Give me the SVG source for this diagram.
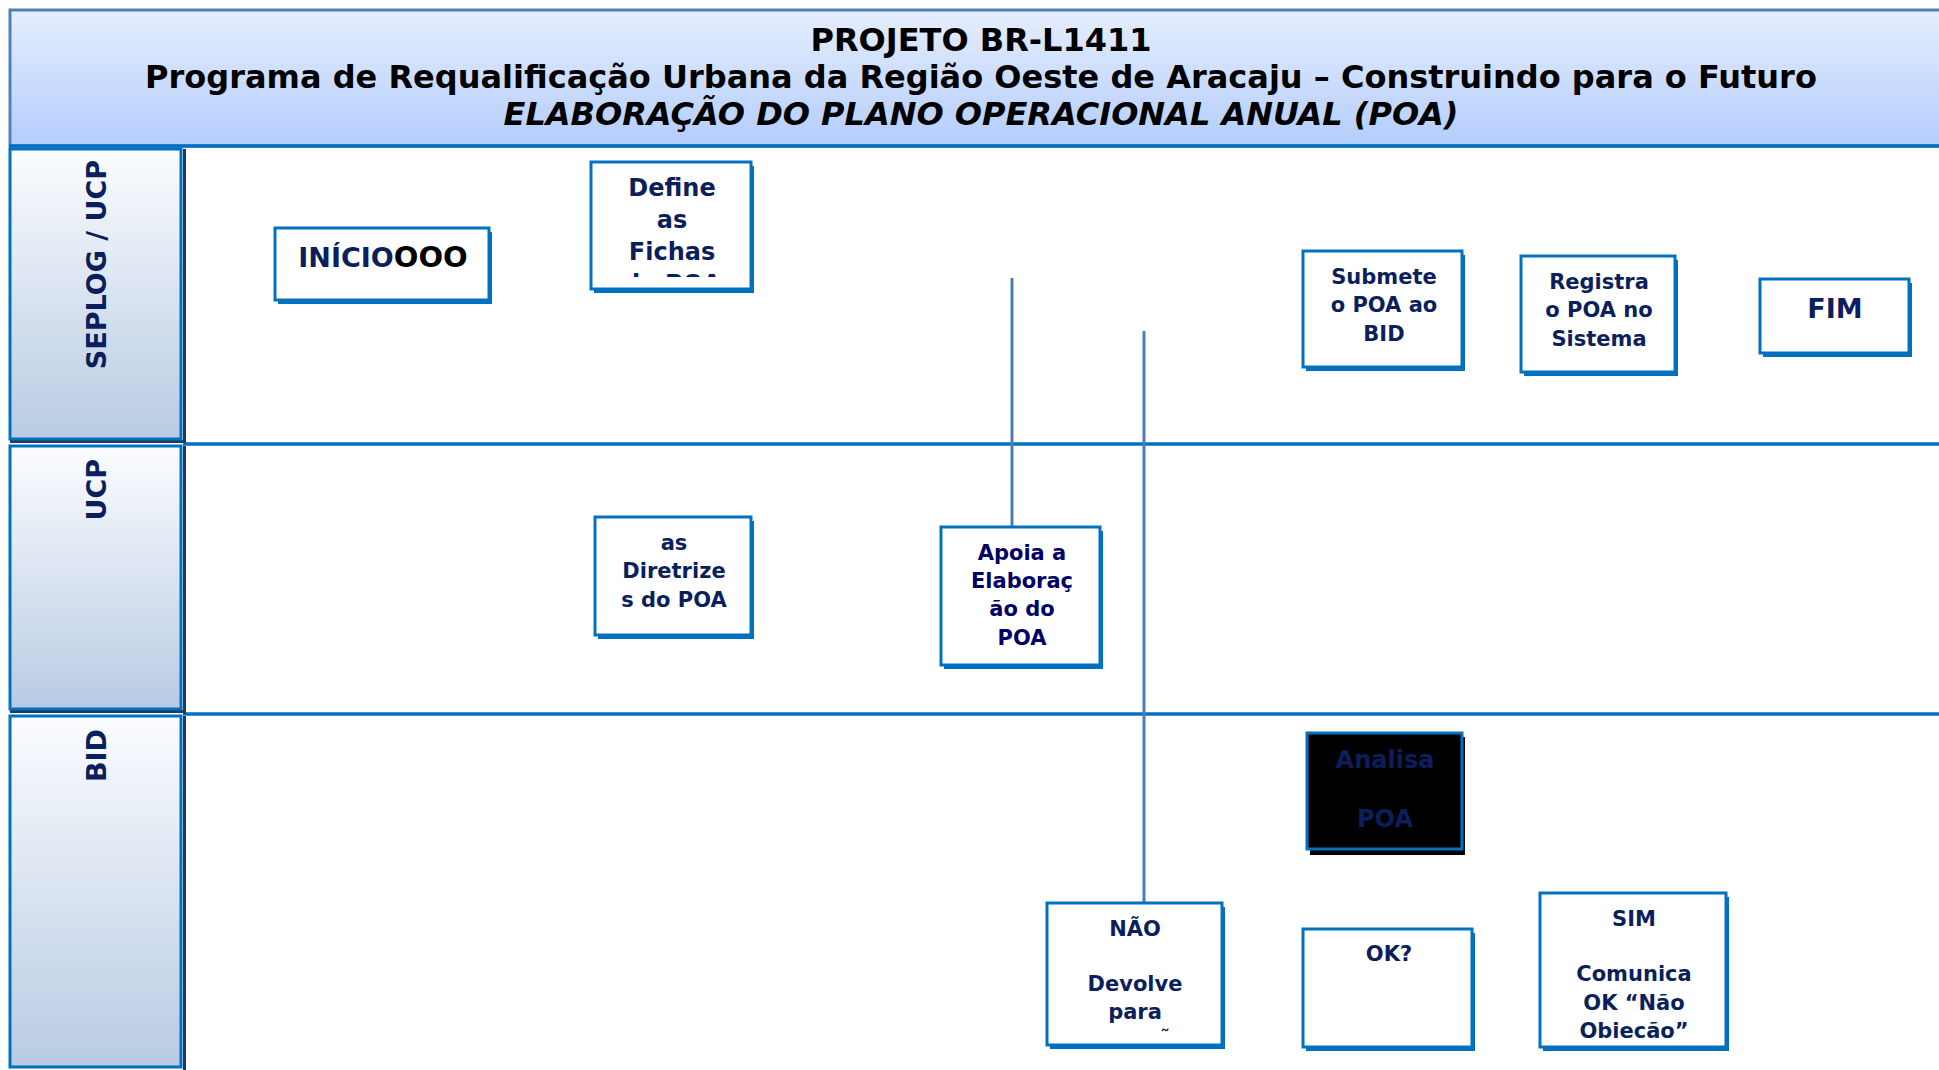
<svg xmlns="http://www.w3.org/2000/svg" width="1939" height="1070" viewBox="0 0 1939 1070">
<style>
text{font-family:"DejaVu Sans","Liberation Sans",sans-serif;font-weight:bold;}
.hdr{font-size:32px;fill:#000;text-anchor:middle;}
.lane{font-size:27px;fill:#0b1f5c;text-anchor:end;}
.t{font-size:21px;fill:#0b1f5c;text-anchor:middle;}
.t24{font-size:24px;fill:#0b1f5c;text-anchor:middle;}
.box{fill:#fff;stroke:#0070c0;stroke-width:3;}
.shd{fill:#0070c0;}
.sep{stroke:#0070c0;stroke-width:3.5;}
.cell{fill:url(#laneGrad);stroke:#0070c0;stroke-width:3;}
.conn{stroke:#4a7ebb;stroke-width:3;fill:none;}
</style>
<defs>
<linearGradient id="hdrGrad" x1="0" y1="0" x2="0" y2="1">
<stop offset="0" stop-color="#e5eefd"/>
<stop offset="1" stop-color="#b4cdfc"/>
</linearGradient>
<linearGradient id="laneGrad" x1="0" y1="0" x2="0" y2="1">
<stop offset="0" stop-color="#fbfcfe"/>
<stop offset="1" stop-color="#b8cbe3"/>
</linearGradient>
<clipPath id="clipDefine"><rect x="591" y="162" width="162" height="115"/></clipPath>
<clipPath id="clipNao"><rect x="1047" y="903" width="177" height="142"/></clipPath>
<clipPath id="clipSim"><rect x="1540" y="893" width="188" height="145"/></clipPath>
</defs>
<rect width="1939" height="1070" fill="#fff"/>
<g id="header">
<rect x="10" y="10" width="1935" height="136" fill="url(#hdrGrad)" stroke="#4f81bd" stroke-width="3"/>
<line x1="9" y1="146" x2="1939" y2="146" class="sep"/>
<text class="hdr" x="981" y="51">PROJETO BR-L1411</text>
<text class="hdr" x="981" y="88">Programa de Requalificação Urbana da Região Oeste de Aracaju – Construindo para o Futuro</text>
<text class="hdr" x="981" y="125" font-style="italic">ELABORAÇÃO DO PLANO OPERACIONAL ANUAL (POA)</text>
</g>
<g id="lanes">
<line x1="183" y1="444" x2="1939" y2="444" class="sep"/>
<line x1="183" y1="714" x2="1939" y2="714" class="sep"/>
<g id="lane-seplog">
<rect x="183" y="149" width="3" height="294" fill="#1f3a60"/>
<rect x="10" y="440" width="175" height="3" fill="#1f3a60"/>
<rect class="cell" x="10" y="149" width="171" height="290"/>
<text class="lane" transform="translate(106,160) rotate(-90)">SEPLOG / UCP</text>
</g>
<g id="lane-ucp">
<rect x="183" y="446" width="3" height="268" fill="#1f3a60"/>
<rect x="10" y="710" width="175" height="3" fill="#1f3a60"/>
<rect class="cell" x="10" y="446" width="171" height="263"/>
<text class="lane" transform="translate(106,459) rotate(-90)">UCP</text>
</g>
<g id="lane-bid">
<rect x="183" y="716" width="3" height="354" fill="#1f3a60"/>
<rect class="cell" x="10" y="716" width="171" height="351"/>
<text class="lane" transform="translate(106,729) rotate(-90)">BID</text>
</g>
</g>
<g id="connectors">
<line class="conn" x1="1012" y1="278" x2="1012" y2="528"/>
<line class="conn" x1="1144" y1="331" x2="1144" y2="904"/>
</g>
<g id="node-inicio">
<rect class="shd" x="278" y="232" width="214" height="72"/>
<rect class="box" x="275" y="228" width="214" height="72"/>
<text x="383" y="267" style="font-size:27px" text-anchor="middle"><tspan fill="#0b1f5c">INÍCIO</tspan><tspan fill="#000" style="font-size:29px">OOO</tspan></text>
</g>
<g id="node-define">
<rect class="shd" x="594" y="166" width="160" height="127"/>
<rect class="box" x="591" y="162" width="160" height="127"/>
<g clip-path="url(#clipDefine)">
<text class="t24" x="672" y="196">Define</text>
<text class="t24" x="672" y="228">as</text>
<text class="t24" x="672" y="260">Fichas</text>
<text class="t24" x="672" y="292">do POA</text>
</g>
</g>
<g id="node-diretrizes">
<rect class="shd" x="598" y="521" width="156" height="118"/>
<rect class="box" x="595" y="517" width="156" height="118"/>
<text class="t" x="674" y="550">as</text>
<text class="t" x="674" y="578">Diretrize</text>
<text class="t" x="674" y="607">s do POA</text>
</g>
<g id="node-apoia">
<rect class="shd" x="944" y="531" width="159" height="138"/>
<rect class="box" x="941" y="527" width="159" height="138"/>
<text class="t" x="1022" y="560" style="fill:#000066">Apoia a</text>
<text class="t" x="1022" y="588" style="fill:#000066">Elaboraç</text>
<text class="t" x="1022" y="616" style="fill:#000066">ão do</text>
<text class="t" x="1022" y="645" style="fill:#000066">POA</text>
</g>
<g id="node-submete">
<rect class="shd" x="1306" y="255" width="159" height="116"/>
<rect class="box" x="1303" y="251" width="159" height="116"/>
<text class="t" x="1384" y="284">Submete</text>
<text class="t" x="1384" y="312">o POA ao</text>
<text class="t" x="1384" y="341">BID</text>
</g>
<g id="node-registra">
<rect class="shd" x="1524" y="260" width="154" height="116"/>
<rect class="box" x="1521" y="256" width="154" height="116"/>
<text class="t" x="1599" y="289">Registra</text>
<text class="t" x="1599" y="317">o POA no</text>
<text class="t" x="1599" y="346">Sistema</text>
</g>
<g id="node-fim">
<rect class="shd" x="1763" y="283" width="149" height="74"/>
<rect class="box" x="1760" y="279" width="149" height="74"/>
<text class="t" x="1835" y="318" style="font-size:27px">FIM</text>
</g>
<g id="node-analisa">
<rect x="1310" y="737" width="155" height="118" fill="#000"/>
<rect x="1307" y="733" width="155" height="116" fill="#000" stroke="#0070c0" stroke-width="3"/>
<text class="t24" x="1385" y="768">Analisa</text>
<text class="t24" x="1385" y="827">POA</text>
</g>
<g id="node-nao">
<rect class="shd" x="1050" y="907" width="175" height="142"/>
<rect class="box" x="1047" y="903" width="175" height="142"/>
<g clip-path="url(#clipNao)">
<text class="t" x="1135" y="936">NÃO</text>
<text class="t" x="1135" y="991">Devolve</text>
<text class="t" x="1135" y="1019">para</text>
<text class="t" x="1165" y="1044" style="font-size:20px">˜</text>
</g>
</g>
<g id="node-ok">
<rect class="shd" x="1306" y="933" width="169" height="118"/>
<rect class="box" x="1303" y="929" width="169" height="118"/>
<text class="t" x="1389" y="961">OK?</text>
</g>
<g id="node-sim">
<rect class="shd" x="1543" y="897" width="186" height="154"/>
<rect class="box" x="1540" y="893" width="186" height="154"/>
<g clip-path="url(#clipSim)">
<text class="t" x="1634" y="926">SIM</text>
<text class="t" x="1634" y="981">Comunica</text>
<text class="t" x="1634" y="1010">OK “Não</text>
<text class="t" x="1634" y="1038">Objeção”</text>
</g>
</g>
</svg>
